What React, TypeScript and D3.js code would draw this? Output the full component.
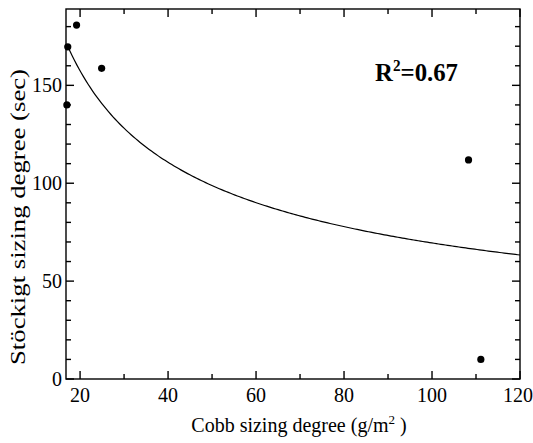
import React from "react";
import * as d3 from "d3";

const cobbX = [17.2, 19.2, 17.0, 24.9, 108.3, 111.1];
const stockigtY = [169.7, 180.8, 140.0, 158.7, 111.9, 10.0];
const xMajorTicks = [20, 40, 60, 80, 100, 120];
const xMinorTicks = [30, 50, 70, 90, 110];
const yMajorTicks = [0, 50, 100, 150];
const yMinorTicks = [10, 20, 30, 40, 60, 70, 80, 90, 110, 120, 130, 140, 160, 170, 180];
// power fit y = a * x^b
const fitA = 721;
const fitB = -0.508;
const fitRange = [17.2, 120];
const r2Label = "0.67";

const W = 533, H = 443;
const L = 66, R = 520, T = 9, B = 379;
const FONT = "'Liberation Serif', 'Times New Roman', serif";

export default function App() {
  const x = d3.scaleLinear().domain([16.8, 120]).range([L, R]);
  const y = d3.scaleLinear().domain([0, 189]).range([B, T]);
  const fitPts = d3.range(0, 201).map((i) => {
    const xv = fitRange[0] + (fitRange[1] - fitRange[0]) * (i / 200);
    return [xv, fitA * Math.pow(xv, fitB)] as [number, number];
  });
  const line = d3.line<[number, number]>().x((d) => x(d[0])).y((d) => y(d[1]));
  const maj = 8, min = 5;
  const sw = 1.4;
  return (
    <svg width={W} height={H} style={{ position: "absolute", left: 0, top: 0, background: "#fff" }} fontFamily={FONT}>
      <rect x={0} y={0} width={W} height={H} fill="#fff" />
      <rect x={L} y={T} width={R - L} height={B - T} fill="none" stroke="#000" strokeWidth={sw} />
      {xMajorTicks.map((t) => (
        <g key={"xm" + t}>
          <line x1={x(t)} x2={x(t)} y1={B} y2={B - maj} stroke="#000" strokeWidth={sw} />
          <line x1={x(t)} x2={x(t)} y1={T} y2={T + maj} stroke="#000" strokeWidth={sw} />
          <text x={t === 120 ? x(t) - 2 : x(t)} y={B + 23} fontSize={20} textAnchor="middle">{t}</text>
        </g>
      ))}
      {xMinorTicks.map((t) => (
        <g key={"xn" + t}>
          <line x1={x(t)} x2={x(t)} y1={B} y2={B - min} stroke="#000" strokeWidth={sw} />
          <line x1={x(t)} x2={x(t)} y1={T} y2={T + min} stroke="#000" strokeWidth={sw} />
        </g>
      ))}
      {yMajorTicks.map((t) => (
        <g key={"ym" + t}>
          <line x1={L} x2={L + maj} y1={y(t)} y2={y(t)} stroke="#000" strokeWidth={sw} />
          <line x1={R} x2={R - maj} y1={y(t)} y2={y(t)} stroke="#000" strokeWidth={sw} />
          <text x={L - 4} y={y(t) + 7} fontSize={20} textAnchor="end">{t}</text>
        </g>
      ))}
      {yMinorTicks.map((t) => (
        <g key={"yn" + t}>
          <line x1={L} x2={L + min} y1={y(t)} y2={y(t)} stroke="#000" strokeWidth={sw} />
          <line x1={R} x2={R - min} y1={y(t)} y2={y(t)} stroke="#000" strokeWidth={sw} />
        </g>
      ))}
      <path d={line(fitPts) || ""} fill="none" stroke="#000" strokeWidth={1.2} />
      {cobbX.map((cx, i) => (
        <circle key={i} cx={x(cx)} cy={y(stockigtY[i])} r={3.6} fill="#000" />
      ))}
      <text x={375} y={81} fontSize={26} fontWeight="bold" textLength={83} lengthAdjust="spacingAndGlyphs">
        R<tspan fontSize={16} dy={-10}>2</tspan><tspan dy={10}>={r2Label}</tspan>
      </text>
      <text x={299} y={432} fontSize={20} textAnchor="middle">
        Cobb sizing degree (g/m<tspan fontSize={13} dy={-8}>2</tspan><tspan dy={8}> )</tspan>
      </text>
      <text transform={`translate(25, 217) rotate(-90)`} fontSize={21} textAnchor="middle" textLength={296} lengthAdjust="spacingAndGlyphs">
        Stöckigt sizing degree (sec)
      </text>
    </svg>
  );
}
